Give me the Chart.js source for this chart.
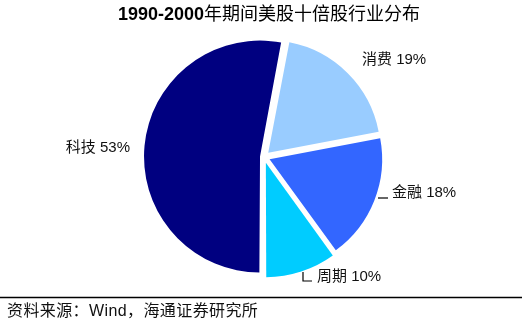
<!DOCTYPE html>
<html><head><meta charset="utf-8">
<script src="https://cdn.jsdelivr.net/npm/chart.js@4"></script>
<style>html,body{margin:0;padding:0;background:#fff;overflow:hidden}</style>
</head><body>
<canvas id="c" width="528" height="329" style="width:528px;height:329px;display:block"></canvas>
<script>
// ---- data ----
const categories = ['消费', '金融', '周期', '科技'];
const shares = [19, 18, 10, 53];
const sliceColors = ['#99CCFF', '#3366FF', '#00CCFF', '#000080'];
const titleYears = '1990-2000';
const titleRest = '年期间美股十倍股行业分布';
const sourceText = '资料来源：Wind，海通证券研究所';

// ---- layout (label anchors relative to pie centre) ----
const labelLayout = [
  {dx: 98, dy: -97, align: 'left'},
  {dx: 128, dy: 36, align: 'left', leader: [[114, 41], [124, 41]]},
  {dx: 53, dy: 120, align: 'left', leader: [[39, 115], [39, 124], [48, 124]]},
  {dx: -134, dy: -9, align: 'right'}
];
const LATIN = '"Liberation Sans", Arial, sans-serif';
const CJK = '"Liberation Sans", "Noto Sans CJK SC", sans-serif';

const total = shares.reduce((a, b) => a + b, 0);
const rotation = 180 - 360 * (total - shares[shares.length - 1]) / total;

const textPlugin = {
  id: 'texts',
  afterDraw(chart) {
    const ctx = chart.ctx;
    const arcs = chart.getDatasetMeta(0).data;
    const cx = arcs[0].x, cy = arcs[0].y;
    ctx.save();
    ctx.fillStyle = '#000';
    ctx.textBaseline = 'middle';
    // slice labels
    ctx.font = '15px ' + CJK;
    categories.forEach((c, i) => {
      const L = labelLayout[i];
      ctx.textAlign = L.align;
      ctx.fillStyle = '#111';
      ctx.fillText(c + ' ' + shares[i] + '%', cx + L.dx, cy + L.dy);
      if (L.leader) {
        ctx.strokeStyle = '#000';
        ctx.lineWidth = 1.2;
        ctx.beginPath();
        L.leader.forEach((p, k) => {
          const x = cx + p[0], y = cy + p[1];
          if (k === 0) ctx.moveTo(x, y); else ctx.lineTo(x, y);
        });
        ctx.stroke();
      }
    });
    // title
    ctx.textAlign = 'left';
    ctx.font = 'bold 18px ' + LATIN;
    const w1 = ctx.measureText(titleYears).width;
    ctx.font = '18px ' + CJK;
    const w2 = ctx.measureText(titleRest).width;
    const tx = 269 - (w1 + w2) / 2;
    ctx.fillStyle = '#000';
    ctx.font = 'bold 18px ' + LATIN;
    ctx.fillText(titleYears, tx, 15);
    ctx.font = '18px ' + CJK;
    ctx.fillText(titleRest, tx + w1, 15);
    // footer rule and source
    ctx.strokeStyle = '#000';
    ctx.lineWidth = 1.5;
    ctx.beginPath();
    ctx.moveTo(0, 297.5);
    ctx.lineTo(522, 297.5);
    ctx.stroke();
    ctx.font = '16px ' + CJK;
    ctx.letterSpacing = '0.4px';
    ctx.fillStyle = '#111';
    ctx.fillText(sourceText, 7, 312);
    ctx.restore();
  }
};

new Chart(document.getElementById('c'), {
  type: 'pie',
  data: {
    labels: categories,
    datasets: [{
      data: shares,
      backgroundColor: sliceColors,
      borderWidth: 0,
      offset: [24, 24, 24, 16]
    }]
  },
  options: {
    responsive: false,
    animation: false,
    devicePixelRatio: 1,
    rotation: rotation,
    radius: 112,
    layout: {padding: {top: 0, bottom: 15, left: 0, right: 0}},
    plugins: {legend: {display: false}, tooltip: {enabled: false}}
  },
  plugins: [textPlugin]
});
</script>
</body></html>
